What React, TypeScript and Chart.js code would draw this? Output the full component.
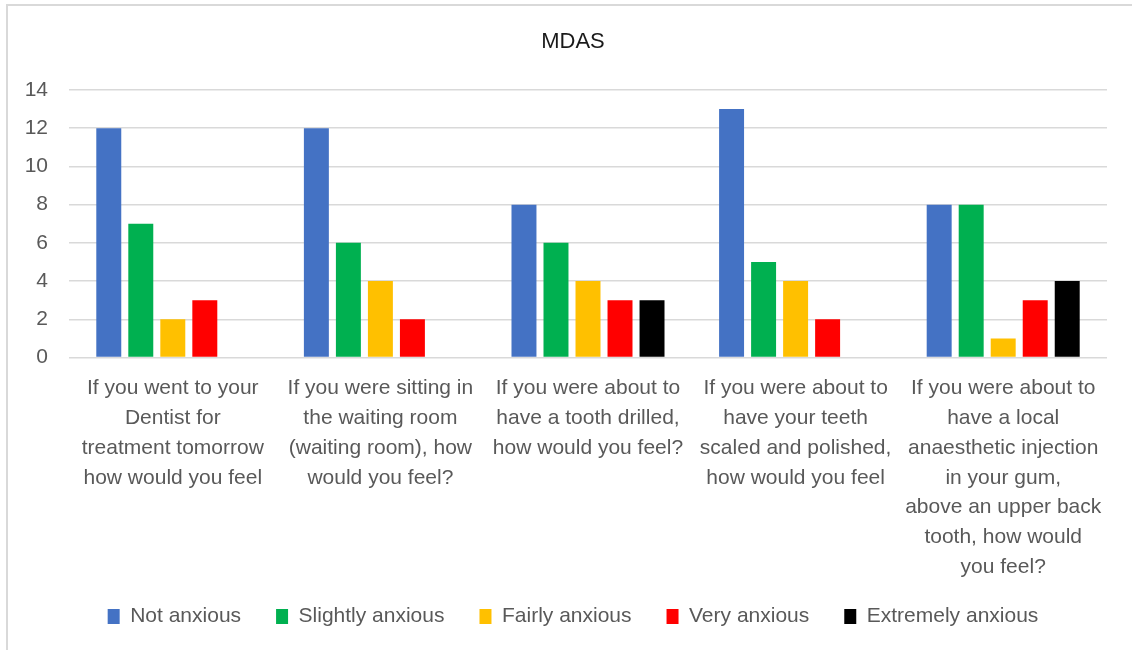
import React, { useEffect, useRef } from "react";
import { Chart, registerables } from "chart.js";

Chart.register(...registerables);

const TITLE = "MDAS";
const categories: string[][] = [
  ["If you went to your", "Dentist for", "treatment tomorrow", "how would you feel"],
  ["If you were sitting in", "the waiting room", "(waiting room), how", "would you feel?"],
  ["If you were about to", "have a tooth drilled,", "how would you feel?"],
  ["If you were about to", "have your teeth", "scaled and polished,", "how would you feel"],
  ["If you were about to", "have a local", "anaesthetic injection", "in your gum,", "above an upper back", "tooth, how would", "you feel?"],
];
const seriesNames = ["Not anxious", "Slightly anxious", "Fairly anxious", "Very anxious", "Extremely anxious"];
const notAnxious = [12, 12, 8, 13, 8];
const slightlyAnxious = [7, 6, 6, 5, 8];
const fairlyAnxious = [2, 4, 4, 4, 1];
const veryAnxious = [3, 2, 3, 2, 3];
const extremelyAnxious = [0, 0, 3, 0, 4];
const seriesColors = ["#4472C4", "#00B050", "#FFC000", "#FF0000", "#000000"];
const yTicks = [0, 2, 4, 6, 8, 10, 12, 14];

const FONT = "'Liberation Sans', Arial, sans-serif";

// lets the multi-line category labels extend past the x-axis box instead of being clipped
const unclipXLabels = {
  id: "unclipXLabels",
  afterLayout(chart: any) {
    const s = chart.scales.x;
    s.bottom += 30;
    s.height += 30;
  },
};

export default function App() {
  const ref = useRef<HTMLCanvasElement | null>(null);
  useEffect(() => {
    if (!ref.current) return;
    const values = [notAnxious, slightlyAnxious, fairlyAnxious, veryAnxious, extremelyAnxious];
    const chart = new Chart(ref.current, {
      type: "bar",
      data: {
        labels: categories,
        datasets: seriesNames.map((name, i) => ({
          label: name,
          data: values[i],
          backgroundColor: seriesColors[i],
          borderWidth: 0,
          categoryPercentage: 0.771,
          barPercentage: 0.78,
        })),
      },
      plugins: [unclipXLabels],
      options: {
        responsive: false,
        animation: false,
        layout: { padding: { left: 14, right: 0, top: 0, bottom: 13 } },
        plugins: {
          title: {
            display: true,
            text: TITLE,
            color: "#1a1a1a",
            font: { family: FONT, size: 22, weight: "normal", lineHeight: 1.2 },
            padding: { top: 29, bottom: 34.6 },
          },
          legend: {
            position: "bottom",
            labels: {
              color: "#595959",
              font: { family: FONT, size: 21 },
              boxWidth: 12,
              boxHeight: 15,
              padding: 35,
            },
          },
          tooltip: { enabled: false },
        },
        scales: {
          x: {
            grid: { display: false, drawTicks: false },
            border: { display: false },
            ticks: {
              color: "#595959",
              font: { family: FONT, size: 21, lineHeight: 1.42 },
              padding: 16,
              autoSkip: false,
              maxRotation: 0,
              minRotation: 0,
            },
            afterFit: (scale: any) => {
              scale.height = 213.5;
            },
          },
          y: {
            min: 0,
            max: 14,
            afterBuildTicks: (scale: any) => {
              scale.ticks = yTicks.map((v) => ({ value: v }));
            },
            grid: { color: "#d9d9d9", lineWidth: 1.5, drawTicks: false },
            border: { display: false },
            ticks: {
              color: "#595959",
              font: { family: FONT, size: 21 },
              padding: 21,
            },
            afterFit: (scale: any) => {
              scale.width = 55;
            },
          },
          yRight: {
            position: "right",
            display: true,
            grid: { display: false, drawTicks: false },
            border: { display: false },
            ticks: { display: false },
            afterFit: (scale: any) => {
              scale.width = 25;
            },
          },
        },
      },
    });
    return () => chart.destroy();
  }, []);
  return (
    <div style={{ position: "fixed", left: 0, top: 0, width: 1132, height: 650, background: "#fff" }}>
      <canvas ref={ref} width={1132} height={650} style={{ position: "absolute", left: 0, top: 0 }} />
      <div
        style={{
          position: "absolute",
          left: 6,
          top: 4,
          width: 1200,
          height: 700,
          border: "2px solid #d9d9d9",
          boxSizing: "border-box",
          pointerEvents: "none",
        }}
      />
    </div>
  );
}
